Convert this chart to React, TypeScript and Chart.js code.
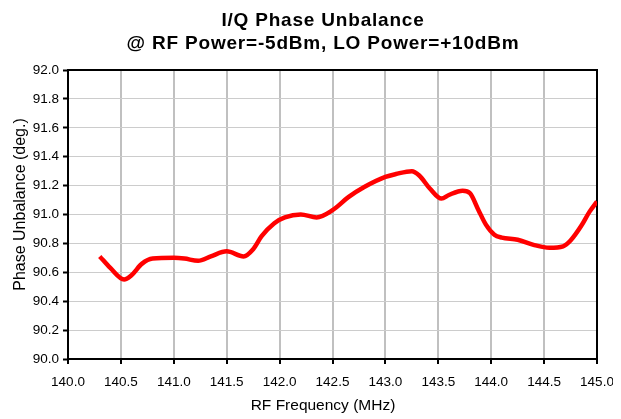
import React, { useEffect, useRef } from "react";
import { Chart, registerables } from "chart.js";

Chart.register(...registerables);

// ---- data ----
const freqMHz = [
  140.3, 140.4, 140.53, 140.6, 140.7, 140.8, 141.0, 141.1, 141.23, 141.35,
  141.5, 141.66, 141.75, 141.83, 141.95, 142.05, 142.2, 142.35, 142.5, 142.65,
  142.8, 143.0, 143.1, 143.25, 143.32, 143.42, 143.53, 143.6, 143.73, 143.8,
  143.88, 143.95, 144.03, 144.1, 144.25, 144.4, 144.55, 144.68, 144.75, 144.85,
  144.93, 145.0,
];
const phaseDeg = [
  90.71, 90.63, 90.55, 90.58, 90.66, 90.695, 90.70, 90.695, 90.68, 90.71,
  90.745, 90.71, 90.76, 90.85, 90.94, 90.98, 91.0, 90.98, 91.03, 91.12,
  91.19, 91.26, 91.28, 91.30, 91.27, 91.18, 91.11, 91.135, 91.165, 91.147,
  91.03, 90.93, 90.86, 90.84, 90.825, 90.79, 90.77, 90.78, 90.82, 90.92,
  91.02, 91.09,
];
const titleLines = ["I/Q Phase Unbalance", "@ RF Power=-5dBm, LO Power=+10dBm"];
const xTitle = "RF Frequency (MHz)";
const yTitle = "Phase Unbalance (deg.)";
const xMin = 140.0;
const xMax = 145.0;
const xStep = 0.5;
const yMin = 90.0;
const yMax = 92.0;
const yStep = 0.2;

const FONT = "Arial, 'Liberation Sans', Helvetica, sans-serif";

const titlesPlugin = {
  id: "customTitles",
  beforeDatasetsDraw(chart: any) {
    const { ctx, chartArea } = chart;
    ctx.save();
    ctx.strokeStyle = "#000";
    ctx.lineWidth = 2;
    ctx.beginPath();
    ctx.moveTo(chartArea.left, chartArea.top);
    ctx.lineTo(chartArea.right, chartArea.top);
    ctx.lineTo(chartArea.right, chartArea.bottom);
    ctx.stroke();
    ctx.restore();
  },
  afterDraw(chart: any) {
    const { ctx, chartArea } = chart;
    const cx = (chartArea.left + chartArea.right) / 2 - 9.5;
    const cy = (chartArea.top + chartArea.bottom) / 2 - 10;
    ctx.save();
    ctx.fillStyle = "#000";
    ctx.textAlign = "center";
    ctx.textBaseline = "alphabetic";
    ctx.font = `bold 19px ${FONT}`;
    try {
      (ctx as any).letterSpacing = "0.8px";
    } catch (e) {}
    ctx.fillText(titleLines[0], cx, chartArea.top - 44);
    ctx.fillText(titleLines[1], cx, chartArea.top - 21);
    try {
      (ctx as any).letterSpacing = "0px";
    } catch (e) {}
    ctx.font = `15.5px ${FONT}`;
    ctx.fillText(xTitle, cx, chartArea.bottom + 51);
    ctx.translate(chartArea.left - 43, cy);
    ctx.rotate(-Math.PI / 2);
    ctx.font = `16px ${FONT}`;
    ctx.fillText(yTitle, 0, 0);
    ctx.restore();
  },
};

export default function App() {
  const ref = useRef<HTMLCanvasElement | null>(null);

  useEffect(() => {
    document.documentElement.style.overflow = "hidden";
    if (!ref.current) return;
    const points = freqMHz.map((x, i) => ({ x, y: phaseDeg[i] }));
    const chart = new Chart(ref.current, {
      type: "line",
      data: {
        datasets: [
          {
            data: points,
            borderColor: "#ff0000",
            borderWidth: 4.5,
            pointRadius: 0,
            tension: 0.4,
            cubicInterpolationMode: "monotone",
            fill: false,
          },
        ],
      },
      options: {
        animation: false,
        responsive: false,
        layout: { padding: { top: 62, right: 16, bottom: 0, left: 0 } },
        plugins: {
          legend: { display: false },
          title: { display: false },
          tooltip: { enabled: false },
        },
        scales: {
          x: {
            type: "linear",
            min: xMin,
            max: xMax,
            afterFit: (s: any) => {
              s.height = 60;
              s.paddingLeft = 0;
              s.paddingRight = 0;
            },
            ticks: {
              stepSize: xStep,
              color: "#000",
              font: { family: FONT, size: 13.5 },
              padding: 10,
              maxRotation: 0,
              callback: (v: any) => Number(v).toFixed(1),
            },
            grid: {
              color: "#c0c0c0",
              lineWidth: 2,
              tickColor: "#000",
              tickWidth: 2,
              tickLength: 5,
            },
            border: { color: "#000", width: 2 },
          },
          y: {
            type: "linear",
            min: yMin,
            max: yMax,
            afterFit: (s: any) => {
              s.width = 60;
              s.paddingTop = 0;
              s.paddingBottom = 0;
            },
            ticks: {
              stepSize: yStep,
              color: "#000",
              font: { family: FONT, size: 13.5 },
              padding: 4,
              callback: (v: any) => Number(v).toFixed(1),
            },
            grid: {
              color: "#cccccc",
              lineWidth: 1,
              tickColor: "#000",
              tickWidth: 2,
              tickLength: 5,
            },
            border: { color: "#000", width: 2 },
          },
        },
      },
      plugins: [titlesPlugin],
    });
    return () => chart.destroy();
  }, []);

  return (
    <canvas
      ref={ref}
      width={605}
      height={411}
      style={{ display: "block" }}
    />
  );
}
